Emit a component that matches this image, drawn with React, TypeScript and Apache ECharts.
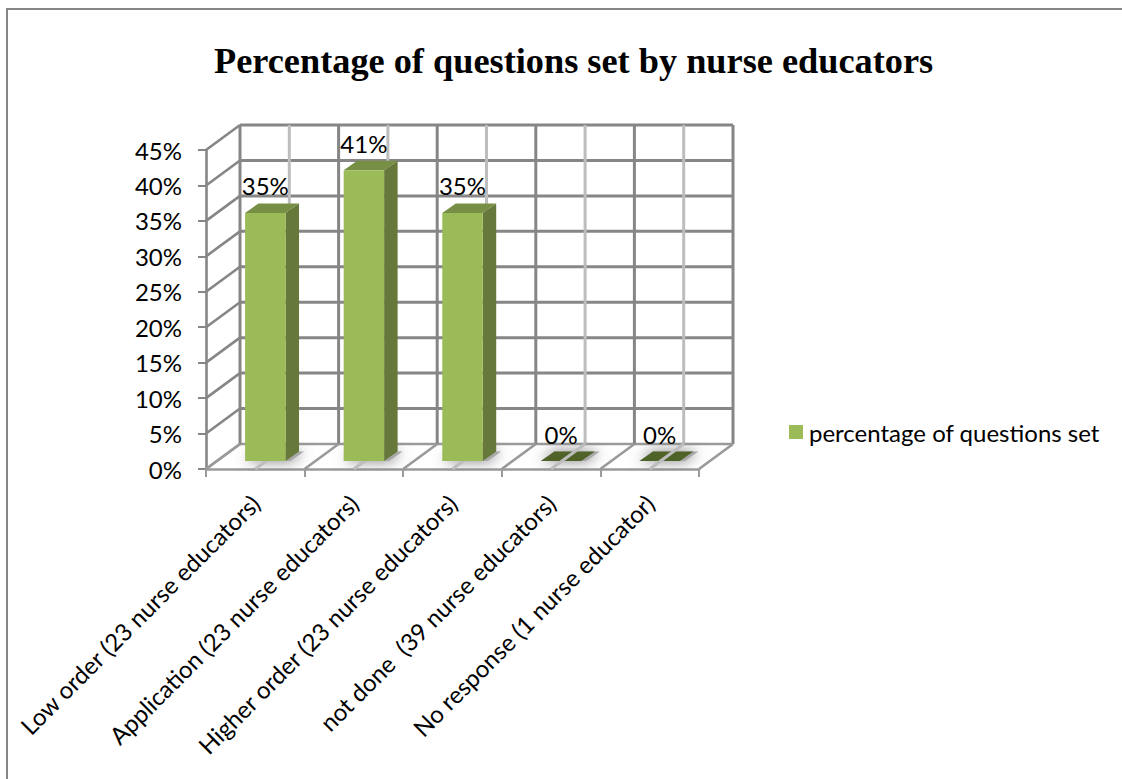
import React, { useEffect, useRef } from "react";
import * as echarts from "echarts";

const categories = [
  "Low order (23 nurse educators)",
  "Application (23 nurse educators)",
  "Higher order (23 nurse educators)",
  "not done  (39 nurse educators)",
  "No response (1 nurse educator)",
];
const percentages = [35, 41, 35, 0, 0];
const percentTicks = [0, 5, 10, 15, 20, 25, 30, 35, 40, 45];
const seriesName = "percentage of questions set";
const chartTitle = "Percentage of questions set by nurse educators";

// Oblique projection of the chart's depth axis, in pixels.
const DEPTH_X = 34;
const DEPTH_Y = -25;
// Where a column stands on the floor, relative to the front edge of its slot.
const FOOT_X = 10;
const FOOT_Y = -8;
const COL_DEPTH_X = 13.5;
const COL_DEPTH_Y = -9.5;
const COL_WIDTH_RATIO = 0.41;

const GRID_DARK = "#868686";
const GRID_FLOOR = "#9a9a9a";
const GRID_LIGHT = "#bdbdbd";
const FONT = "Lato";
const FONT_SIZE = 24;

const line = (x1: number, y1: number, x2: number, y2: number, stroke: string, lineWidth = 2.6) => ({
  type: "line",
  shape: { x1, y1, x2, y2 },
  style: { stroke, lineWidth, fill: "none" },
});

// Horizontal wall lines plus the diagonal return along the side wall.
const renderWallRow = (_: any, api: any) => {
  const v = api.value(1);
  const [x0, y] = api.coord([0, v]);
  const slot = api.size([1, 0])[0];
  const left = x0 - slot / 2;
  const right = left + slot * categories.length;
  const stroke = v === 0 ? GRID_FLOOR : GRID_DARK;
  return {
    type: "group",
    children: [
      line(left, y, left + DEPTH_X, y + DEPTH_Y, stroke),
      line(left + DEPTH_X, y + DEPTH_Y, right + DEPTH_X, y + DEPTH_Y, stroke, v === 0 ? 2.6 : 3),
    ],
  };
};

// Vertical wall lines at slot edges and the paler ones at slot centres.
const renderWallColumn = (_: any, api: any) => {
  const i = api.value(0);
  const [cx, y0] = api.coord([i, 0]);
  const yTop = api.coord([i, percentTicks[percentTicks.length - 1]])[1];
  const slot = api.size([1, 0])[0];
  const edges = [cx - slot / 2];
  if (i === categories.length - 1) edges.push(cx + slot / 2);
  const children: any[] = [
    line(cx + DEPTH_X, yTop + DEPTH_Y, cx + DEPTH_X, y0 + DEPTH_Y, GRID_LIGHT, 3),
  ];
  edges.forEach((x) => {
    children.push(line(x + DEPTH_X, yTop + DEPTH_Y, x + DEPTH_X, y0 + DEPTH_Y, GRID_DARK, 3));
    children.push(line(x, y0, x + DEPTH_X, y0 + DEPTH_Y, GRID_FLOOR));
  });
  return { type: "group", children };
};

const footprint = (api: any, growLeft = 0, growRight = 0) => {
  const [cx, y0] = api.coord([api.value(0), 0]);
  const w = api.size([1, 0])[0] * COL_WIDTH_RATIO;
  const x = cx - w / 2 + FOOT_X;
  const y = y0 + FOOT_Y;
  return [
    [x - growLeft, y],
    [x + w + growRight, y],
    [x + w + COL_DEPTH_X + growRight, y + COL_DEPTH_Y],
    [x + COL_DEPTH_X - growLeft, y + COL_DEPTH_Y],
  ];
};

// Soft shadow on the floor and the dark plate of an empty column.
const renderFloorShadow = (_: any, api: any) => {
  const children: any[] = [
    {
      type: "polygon",
      shape: { points: footprint(api, 0, 5) },
      style: { fill: "#a8a8a8", shadowBlur: 14, shadowColor: "#6e6e6e" },
    },
  ];
  if (api.value(1) === 0) {
    children.push({
      type: "polygon",
      shape: { points: footprint(api) },
      style: { fill: "#4f6228" },
    });
  }
  return { type: "group", children };
};

// Paler floor line running forward from each slot centre.
const renderFloorCentre = (_: any, api: any) => {
  const [cx, y0] = api.coord([api.value(0), 0]);
  return line(cx, y0, cx + DEPTH_X, y0 + DEPTH_Y, GRID_LIGHT, 3);
};

// The column itself, with its value written above it.
const renderColumn = (_: any, api: any) => {
  const value = api.value(1);
  const rise = api.size([0, value])[1];
  const pts = footprint(api);
  const [a, b, c] = pts;
  const topY = a[1] - rise;
  const children: any[] = [];
  if (value > 0) {
    children.push(
      {
        type: "polygon",
        shape: { points: [[b[0], b[1]], [c[0], c[1]], [c[0], c[1] - rise], [b[0], topY]] },
        style: { fill: "#67793a" },
      },
      {
        type: "polygon",
        shape: { points: [[a[0], topY], [b[0], topY], [c[0], c[1] - rise], [pts[3][0], pts[3][1] - rise]] },
        style: { fill: "#778f45" },
      },
      {
        type: "polygon",
        shape: { points: [[a[0], a[1]], [b[0], b[1]], [b[0], topY], [a[0], topY]] },
        style: { fill: "#9bbb59" },
      }
    );
  }
  children.push({
    type: "text",
    style: {
      text: `${value}%`,
      x: (a[0] + b[0]) / 2,
      y: topY + COL_DEPTH_Y - 17.5,
      align: "center",
      verticalAlign: "middle",
      fontFamily: FONT,
      fontSize: FONT_SIZE,
      fill: "#000",
    },
  });
  return { type: "group", children };
};

const rows = categories.map((_, i) => [i, percentages[i]]);

export default function App() {
  const ref = useRef<HTMLDivElement>(null);
  useEffect(() => {
    const chart = echarts.init(ref.current!, null, { renderer: "svg" });
    chart.setOption({
      animation: false,
      backgroundColor: "#fff",
      title: {
        text: chartTitle,
        left: 209,
        top: 38,
        textStyle: {
          fontFamily: "Liberation Serif",
          fontWeight: "bold",
          fontSize: 36.3,
          color: "#000",
        },
      },
      legend: {
        data: [seriesName],
        left: 789,
        top: 420,
        icon: "rect",
        itemWidth: 14,
        itemHeight: 14,
        itemGap: 0,
        padding: 0,
        textStyle: { fontFamily: FONT, fontSize: FONT_SIZE, color: "#000", padding: [0, 0, 0, 1] },
      },
      graphic: [
        {
          type: "polyline",
          silent: true,
          shape: { points: [[7, 779], [7, 9], [1122, 9]] },
          style: { stroke: GRID_DARK, lineWidth: 2, fill: "none" },
        },
      ],
      grid: { left: 206, right: 423, top: 150, bottom: 310 },
      xAxis: {
        type: "category",
        data: categories,
        boundaryGap: true,
        axisLine: { lineStyle: { color: GRID_FLOOR, width: 2.6 } },
        axisTick: { show: true, length: 8, lineStyle: { color: GRID_FLOOR, width: 2 } },
        axisLabel: {
          interval: 0,
          rotate: 45,
          margin: 30,
          fontFamily: FONT,
          fontSize: FONT_SIZE,
          color: "#000",
        },
      },
      yAxis: {
        type: "value",
        min: 0,
        max: 45,
        interval: 5,
        splitLine: { show: false },
        axisLine: { show: true, lineStyle: { color: GRID_DARK, width: 2.6 } },
        axisTick: { show: true, length: 8, lineStyle: { color: GRID_DARK, width: 2 } },
        axisLabel: {
          formatter: "{value}%",
          margin: 24,
          fontFamily: FONT,
          fontSize: FONT_SIZE,
          color: "#000",
        },
      },
      series: [
        {
          type: "custom",
          name: "wall rows",
          clip: false,
          silent: true,
          data: percentTicks.map((v) => [0, v]),
          encode: { x: 0, y: 1 },
          renderItem: renderWallRow,
        },
        {
          type: "custom",
          name: "wall columns",
          clip: false,
          silent: true,
          data: rows,
          encode: { x: 0, y: 1 },
          renderItem: renderWallColumn,
        },
        {
          type: "custom",
          name: "floor shadows",
          clip: false,
          silent: true,
          data: rows,
          encode: { x: 0, y: 1 },
          renderItem: renderFloorShadow,
        },
        {
          type: "custom",
          name: "floor centres",
          clip: false,
          silent: true,
          data: rows,
          encode: { x: 0, y: 1 },
          renderItem: renderFloorCentre,
        },
        {
          type: "custom",
          name: seriesName,
          clip: false,
          silent: true,
          itemStyle: { color: "#9bbb59" },
          data: rows,
          encode: { x: 0, y: 1 },
          renderItem: renderColumn,
        },
      ],
    });
    return () => chart.dispose();
  }, []);
  return (
    <div
      ref={ref}
      style={{ position: "fixed", left: 0, top: 0, width: 1122, height: 779 }}
    />
  );
}
